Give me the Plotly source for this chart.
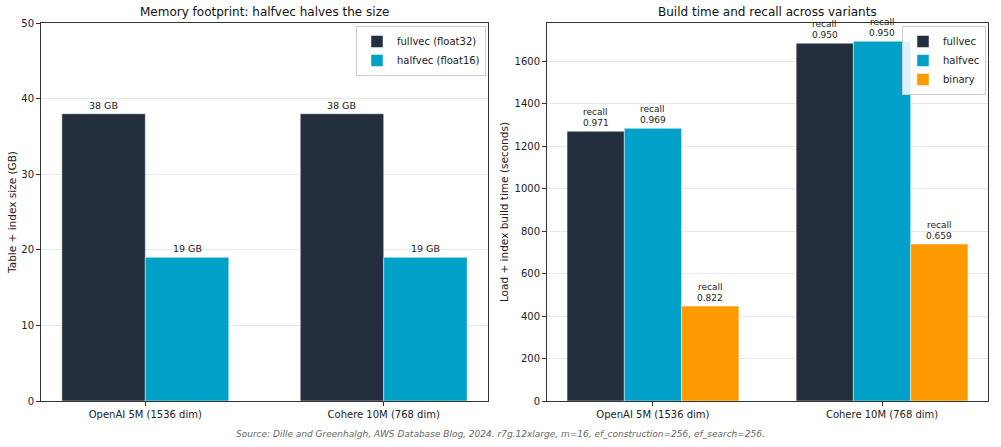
import plotly.graph_objects as go

# ---- data ----
datasets = ["OpenAI 5M (1536 dim)", "Cohere 10M (768 dim)"]
mem_full_gb = [38, 38]
mem_half_gb = [19, 19]
build_full_s = [1270, 1685]
build_half_s = [1284, 1694]
build_binary_s = [447, 739]
recall_full = [0.971, 0.950]
recall_half = [0.969, 0.950]
recall_binary = [0.822, 0.659]

C_FULL = "#232F3E"
C_HALF = "#00A1C9"
C_BIN = "#FF9900"
FONT = "DejaVu Sans"

fig = go.Figure()
annotations = []


def add_bars(values, name, color, offset, width, xaxis, yaxis, legend, labels):
    fig.add_trace(go.Bar(
        x=datasets, y=values, name=name,
        marker=dict(color=color, line=dict(color="rgba(255,255,255,0.6)", width=0.8)),
        offset=offset, width=width, xaxis=xaxis, yaxis=yaxis, legend=legend, hoverinfo="skip"))
    for i, (v, lab) in enumerate(zip(values, labels)):
        lines = lab.split("\n")
        for k, line in enumerate(reversed(lines)):
            annotations.append(dict(
                x=i + offset + width / 2, y=v, xref=xaxis, yref=yaxis, text=line,
                showarrow=False, xanchor="center", yanchor="bottom", yshift=2 + 11 * k,
                font=dict(family=FONT, size=9.5 if len(lines) == 1 else 9, color="#222"),
                borderpad=0))


# left chart
add_bars(mem_full_gb, "fullvec (float32)", C_FULL, -0.35, 0.35, "x", "y", "legend",
         [f"{v} GB" for v in mem_full_gb])
add_bars(mem_half_gb, "halfvec (float16)", C_HALF, 0.0, 0.35, "x", "y", "legend",
         [f"{v} GB" for v in mem_half_gb])

# right chart
add_bars(build_full_s, "fullvec", C_FULL, -0.375, 0.25, "x2", "y2", "legend2",
         [f"recall\n{r:.3f}" for r in recall_full])
add_bars(build_half_s, "halfvec", C_HALF, -0.125, 0.25, "x2", "y2", "legend2",
         [f"recall\n{r:.3f}" for r in recall_half])
add_bars(build_binary_s, "binary", C_BIN, 0.125, 0.25, "x2", "y2", "legend2",
         [f"recall\n{r:.3f}" for r in recall_binary])

ax_common = dict(showline=True, linecolor="#333", linewidth=1, mirror=True,
                 ticks="outside", ticklen=4, tickcolor="#333", automargin=False,
                 tickfont=dict(family=FONT, size=10, color="#222"), layer="above traces")

y_dom = [1 - 401 / 447, 1 - 23 / 447]

annotations += [
    dict(text="Memory footprint: halfvec halves the size", x=(41 + 488) / 2 / 1001, y=1 - 12 / 447,
         xref="paper", yref="paper", xanchor="center", yanchor="middle", showarrow=False,
         font=dict(family=FONT, size=12, color="#111")),
    dict(text="Build time and recall across variants", x=(547 + 988) / 2 / 1001, y=1 - 12 / 447,
         xref="paper", yref="paper", xanchor="center", yanchor="middle", showarrow=False,
         font=dict(family=FONT, size=12, color="#111")),
    dict(text="<i>Source: Dille and Greenhalgh, AWS Database Blog, 2024. r7g.12xlarge, m=16, ef_construction=256, ef_search=256.</i>",
         x=0.5, y=1 - 434 / 447, xref="paper", yref="paper", xanchor="center", yanchor="middle",
         showarrow=False, font=dict(family=FONT, size=9, color="#666")),
]

fig.update_layout(
    width=1001, height=447, margin=dict(l=0, r=0, t=0, b=0),
    paper_bgcolor="white", plot_bgcolor="white",
    barmode="overlay", showlegend=True,
    font=dict(family=FONT, color="#222"),
    xaxis=dict(domain=[41 / 1001, 488 / 1001], range=[-0.4375, 1.4375], anchor="y",
               showgrid=False, **ax_common),
    yaxis=dict(domain=y_dom, range=[0, 50], dtick=10, anchor="x",
               showgrid=True, gridcolor="rgba(0,0,0,0.09)", gridwidth=1, zeroline=False,
               title=dict(text="Table + index size (GB)", font=dict(family=FONT, size=10.5), standoff=2),
               **ax_common),
    xaxis2=dict(domain=[547 / 1001, 988 / 1001], range=[-0.4625, 1.4625], anchor="y2",
                showgrid=False, **ax_common),
    yaxis2=dict(domain=y_dom, range=[0, 1780], dtick=200, anchor="x2",
                showgrid=True, gridcolor="rgba(0,0,0,0.09)", gridwidth=1, zeroline=False,
                title=dict(text="Load + index build time (seconds)", font=dict(family=FONT, size=10.5), standoff=3),
                **ax_common),
    legend=dict(x=486 / 1001, y=1 - 26 / 447, xanchor="right", yanchor="top",
                bgcolor="rgba(255,255,255,0.85)", bordercolor="#ccc", borderwidth=1,
                font=dict(family=FONT, size=10), tracegroupgap=0, itemwidth=30),
    legend2=dict(x=986 / 1001, y=1 - 26 / 447, xanchor="right", yanchor="top",
                 bgcolor="rgba(255,255,255,0.85)", bordercolor="#ccc", borderwidth=1,
                 font=dict(family=FONT, size=10), tracegroupgap=0, itemwidth=30),
    annotations=annotations,
)

fig.write_html("out.html")
